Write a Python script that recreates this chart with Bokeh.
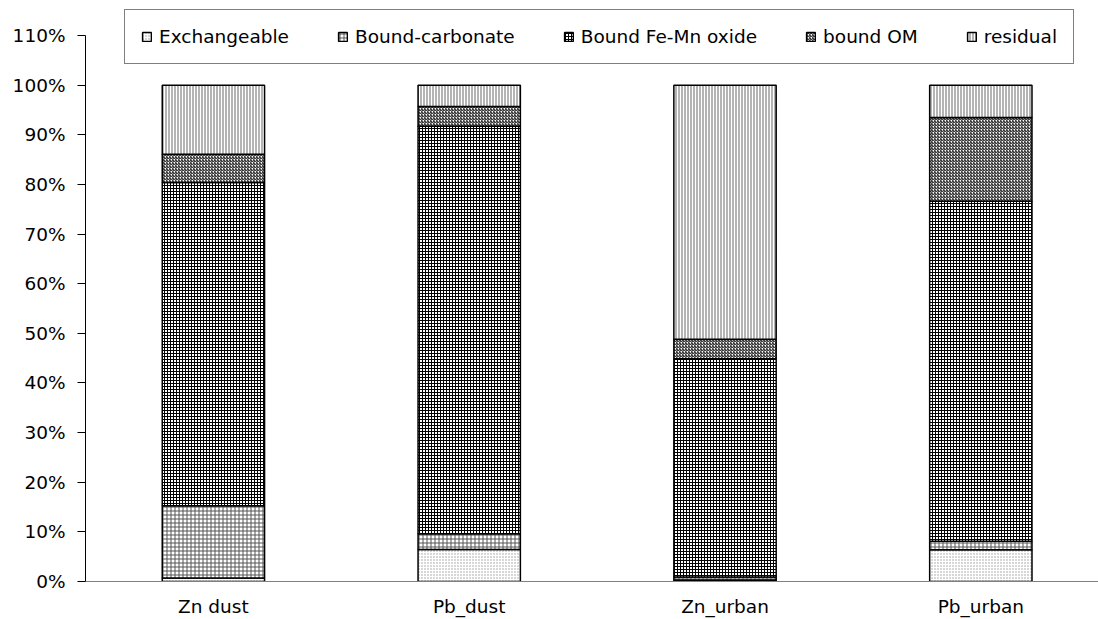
from bokeh.plotting import figure
from bokeh.models import (ColumnDataSource, Range1d, FixedTicker, NumeralTickFormatter,
                          Legend, LegendItem)
from bokeh.embed import file_html
from bokeh.resources import INLINE

# ---- data (percent of total) ----
categories = ["Zn dust", "Pb_dust", "Zn_urban", "Pb_urban"]
series_names = ["Exchangeable", "Bound-carbonate", "Bound Fe-Mn oxide", "bound OM", "residual"]
exchangeable = [0.7, 6.45, 0.3, 6.4]
bound_carbonate = [14.55, 3.15, 0.6, 1.7]
bound_femn_oxide = [65.15, 82.1, 44.0, 68.5]
bound_om = [5.7, 4.0, 3.9, 16.9]
residual = [13.9, 4.3, 51.2, 6.5]
y_ticks = [0, 10, 20, 30, 40, 50, 60, 70, 80, 90, 100, 110]

FONT = "DejaVu Sans"
FS = "18.5px"

xs = [i + 0.5 for i in range(len(categories))]
keys = ["exch", "carb", "femn", "om", "res"]
source = ColumnDataSource(dict(
    x=xs,
    exch=[v / 100 for v in exchangeable],
    carb=[v / 100 for v in bound_carbonate],
    femn=[v / 100 for v in bound_femn_oxide],
    om=[v / 100 for v in bound_om],
    res=[v / 100 for v in residual],
))

p = figure(width=1098, height=619, output_backend="svg", toolbar_location=None,
           x_range=Range1d(0, 3.96), y_range=Range1d(0, 1.1705),
           min_border_left=85, min_border_right=0, min_border_top=0, min_border_bottom=38,
           background_fill_color="white", border_fill_color="white")
p.outline_line_color = None
p.grid.visible = False

renderers = p.vbar_stack(
    keys, x="x", width=0.4, source=source,
    fill_color=["white", "white", "white", "white", "#b4b4b4"],
    line_color="black", line_width=1.5,
    hatch_pattern=["dot", "cross", "cross", "right_diagonal_line", "vertical_line"],
    hatch_color=["#9a9a9a", "#555555", "black", "black", "white"],
    hatch_scale=[3, 4, 3, 3, 3],
    hatch_weight=[1, 1, 1, 1, 1],
)

# y axis
p.yaxis.bounds = (0, 1.1)
p.yaxis.ticker = FixedTicker(ticks=[t / 100 for t in y_ticks])
p.yaxis.formatter = NumeralTickFormatter(format="0%")
p.yaxis.major_tick_out = 8
p.yaxis.major_tick_in = 0
p.yaxis.minor_tick_line_color = None
p.yaxis.axis_line_color = "black"
p.yaxis.major_tick_line_color = "black"
p.yaxis.major_label_standoff = 12
p.yaxis.major_label_text_font = FONT
p.yaxis.major_label_text_font_size = FS
p.yaxis.major_label_text_color = "black"

# x axis
p.xaxis.ticker = FixedTicker(ticks=xs)
p.xaxis.major_label_overrides = {x: c for x, c in zip(xs, categories)}
p.xaxis.major_tick_out = 0
p.xaxis.major_tick_in = 0
p.xaxis.minor_tick_line_color = None
p.xaxis.axis_line_color = "#808080"
p.xaxis.major_label_standoff = 14
p.xaxis.major_label_text_font = FONT
p.xaxis.major_label_text_font_size = FS
p.xaxis.major_label_text_color = "black"

legend = Legend(
    items=[LegendItem(label=n, renderers=[r]) for n, r in zip(series_names, renderers)],
    orientation="horizontal", location=(39, 517),
    border_line_color="black", border_line_width=1,
    background_fill_color="white", background_fill_alpha=1.0,
    glyph_width=11, glyph_height=11, label_standoff=7, spacing=48,
    padding=16, label_height=12, margin=0,
    label_text_font=FONT, label_text_font_size=FS, label_text_color="black",
)
p.add_layout(legend)

open("out.html", "w").write(file_html(p, INLINE))
